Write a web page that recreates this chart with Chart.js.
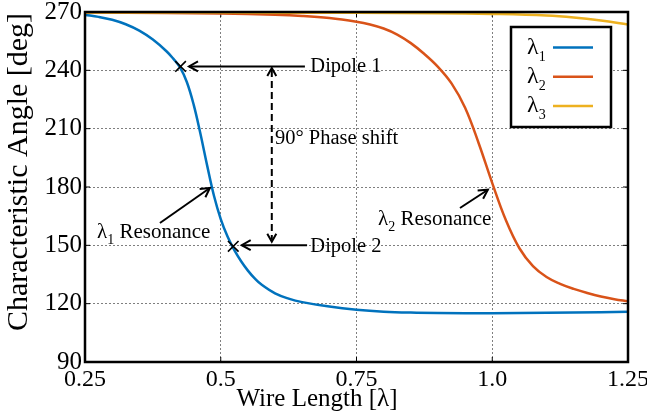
<!DOCTYPE html>
<html><head><meta charset="utf-8">
<script src="https://cdn.jsdelivr.net/npm/chart.js@4"></script>
<style>html,body{margin:0;padding:0;background:#fff;}</style>
</head><body>
<canvas id="c" width="647" height="419" style="width:647px;height:419px;display:block"></canvas>
<script>
// ---- data ----
const xTickLabels = ['0.25', '0.5', '0.75', '1.0', '1.25'];
const yTickLabels = ['90', '120', '150', '180', '210', '240', '270'];
const seriesLabels = ['λ1', 'λ2', 'λ3'];
const xTitle = 'Wire Length [λ]';
const yTitle = 'Characteristic Angle [deg]';

const lambda1X = [0.25, 0.275, 0.30, 0.325, 0.35, 0.375, 0.40, 0.4125, 0.425, 0.4375, 0.45, 0.4625, 0.475, 0.4875, 0.50, 0.5125, 0.525, 0.5375, 0.55, 0.5625, 0.575, 0.60, 0.625, 0.65, 0.70, 0.75, 0.80, 0.85, 0.90, 1.0, 1.1, 1.2, 1.25];
const lambda1Y = [268.5, 267.5, 266.0, 263.7, 260.4, 255.8, 249.8, 246.0, 241.5, 234.0, 222.5, 207.5, 191.0, 175.5, 163.5, 154.5, 147.5, 141.8, 137.0, 133.0, 129.8, 125.3, 122.6, 120.8, 118.5, 116.9, 115.9, 115.4, 115.2, 115.1, 115.3, 115.6, 115.8];

const lambda2X = [0.25, 0.40, 0.50, 0.60, 0.65, 0.70, 0.75, 0.775, 0.80, 0.825, 0.85, 0.875, 0.90, 0.925, 0.95, 0.975, 1.0, 1.025, 1.05, 1.075, 1.10, 1.125, 1.15, 1.175, 1.20, 1.225, 1.25];
const lambda2Y = [269.7, 269.5, 269.2, 268.6, 268.0, 266.9, 265.0, 263.6, 261.5, 258.4, 254.0, 248.4, 241.8, 233.3, 220.8, 202.5, 182.0, 163.0, 148.5, 139.3, 133.7, 130.2, 127.6, 125.5, 123.7, 122.3, 121.2];

const lambda3X = [0.25, 0.5, 0.75, 0.9, 1.0, 1.1, 1.15, 1.2, 1.25];
const lambda3Y = [269.7, 269.7, 269.6, 269.4, 269.0, 268.2, 267.2, 265.6, 263.5];

const dipoleX = [0.426, 0.523];
const dipoleY = [242, 149.5];

// ---- helpers ----
const FONT = "'Liberation Serif', 'Times New Roman', serif";
const pts = (xs, ys) => xs.map((x, i) => ({x, y: ys[i]}));

function head(ctx, x1, y1, x2, y2, len, wid) {
  const a = Math.atan2(y2 - y1, x2 - x1);
  const c = Math.cos(a), s = Math.sin(a);
  ctx.beginPath();
  ctx.moveTo(x2 - len * c + wid * s, y2 - len * s - wid * c);
  ctx.lineTo(x2, y2);
  ctx.lineTo(x2 - len * c - wid * s, y2 - len * s + wid * c);
  ctx.stroke();
}
function subText(ctx, base, sub, rest, x, y, size, subSize) {
  ctx.font = size + 'px ' + FONT;
  ctx.fillText(base, x, y);
  let w = ctx.measureText(base).width;
  ctx.font = subSize + 'px ' + FONT;
  ctx.fillText(sub, x + w, y + size * 0.28);
  w += ctx.measureText(sub).width;
  if (rest) {
    ctx.font = size + 'px ' + FONT;
    ctx.fillText(rest, x + w, y);
  }
}

// annotation layout (data coordinates)
const annot = {
  arrows: [
    {from: [0.655, 242], to: [0.4415, 242]},
    {from: [0.659, 150.1], to: [0.5386, 150.1]},
    {from: [0.388, 161.5], to: [0.480, 179.5]},
    {from: [0.9406, 169.2], to: [0.992, 178.6]}
  ],
  dbl: {x: 0.594, y1: 241.2, y2: 151.8},
  texts: [
    {t: 'Dipole 1', x: 0.665, y: 239.1},
    {t: 'Dipole 2', x: 0.665, y: 146.4},
    {t: '90° Phase shift', x: 0.600, y: 202}
  ],
  subTexts: [
    {base: 'λ', sub: '1', rest: ' Resonance', x: 0.272, y: 153.6},
    {base: 'λ', sub: '2', rest: ' Resonance', x: 0.7896, y: 160.6}
  ]
};

const decor = {
  id: 'decor',
  beforeDatasetsDraw(chart) {
    const {ctx, chartArea: a, scales: {x, y}} = chart;
    ctx.save();
    ctx.strokeStyle = '#000'; ctx.lineWidth = 1;
    x.ticks.forEach(t => {
      const px = x.getPixelForValue(t.value);
      ctx.beginPath(); ctx.moveTo(px, a.bottom); ctx.lineTo(px, a.bottom - 5);
      ctx.moveTo(px, a.top); ctx.lineTo(px, a.top + 5); ctx.stroke();
    });
    y.ticks.forEach(t => {
      const py = y.getPixelForValue(t.value);
      ctx.beginPath(); ctx.moveTo(a.left, py); ctx.lineTo(a.left + 5, py);
      ctx.moveTo(a.right, py); ctx.lineTo(a.right - 5, py); ctx.stroke();
    });
    ctx.restore();
  },
  afterDraw(chart) {
    const {ctx, chartArea: a, scales: {x, y}} = chart;
    const X = v => x.getPixelForValue(v), Y = v => y.getPixelForValue(v);
    ctx.save();
    ctx.fillStyle = '#000'; ctx.strokeStyle = '#000';
    ctx.textBaseline = 'alphabetic'; ctx.textAlign = 'left';
    ctx.lineWidth = 2;
    annot.arrows.forEach(ar => {
      const x1 = X(ar.from[0]), y1 = Y(ar.from[1]), x2 = X(ar.to[0]), y2 = Y(ar.to[1]);
      ctx.beginPath(); ctx.moveTo(x1, y1); ctx.lineTo(x2, y2); ctx.stroke();
      head(ctx, x1, y1, x2, y2, 9, 5);
    });
    const dx = X(annot.dbl.x), dy1 = Y(annot.dbl.y1), dy2 = Y(annot.dbl.y2);
    ctx.setLineDash([7, 4]);
    ctx.beginPath(); ctx.moveTo(dx, dy1 + 2); ctx.lineTo(dx, dy2 - 2); ctx.stroke();
    ctx.setLineDash([]);
    head(ctx, dx, dy2, dx, dy1, 8, 4.5);
    head(ctx, dx, dy1, dx, dy2, 8, 4.5);
    ctx.font = '20.5px ' + FONT;
    annot.texts.forEach(t => ctx.fillText(t.t, X(t.x), Y(t.y)));
    annot.subTexts.forEach(t => subText(ctx, t.base, t.sub, t.rest, X(t.x), Y(t.y), 21, 14));
    ctx.lineWidth = 2.5;
    ctx.strokeRect(a.left, a.top, a.right - a.left, a.bottom - a.top);
    const lx = a.right - 117, ly = a.top + 15, lw = 100, lh = 100;
    ctx.fillStyle = '#fff';
    ctx.fillRect(lx, ly, lw, lh);
    ctx.lineWidth = 2.5; ctx.strokeStyle = '#000';
    ctx.strokeRect(lx, ly, lw, lh);
    chart.data.datasets.filter(d => d.label).forEach((d, i) => {
      const cy = ly + 20.5 + i * 29.2;
      ctx.fillStyle = '#000';
      subText(ctx, d.label[0], d.label.slice(1), '', lx + 16, cy + 6.5, 24, 14);
      ctx.strokeStyle = d.borderColor; ctx.lineWidth = 2.5;
      ctx.beginPath(); ctx.moveTo(lx + 42, cy); ctx.lineTo(lx + 82, cy); ctx.stroke();
    });
    ctx.fillStyle = '#000';
    ctx.textAlign = 'center';
    ctx.font = '25px ' + FONT;
    ctx.fillText(xTitle, 317, 406);
    ctx.translate(19, 172);
    ctx.rotate(-Math.PI / 2);
    ctx.textBaseline = 'middle';
    ctx.font = '30px ' + FONT;
    ctx.fillText(yTitle, 0, 0);
    ctx.restore();
  }
};

const line = (label, xs, ys, color, order) => ({
  label, data: pts(xs, ys), borderColor: color, backgroundColor: color,
  borderWidth: 2.5, pointRadius: 0, tension: 0.4, order
});

new Chart(document.getElementById('c'), {
  type: 'line',
  data: {
    datasets: [
      line(seriesLabels[0], lambda1X, lambda1Y, '#0072BD', 2),
      line(seriesLabels[1], lambda2X, lambda2Y, '#D95319', 1),
      line(seriesLabels[2], lambda3X, lambda3Y, '#EDB120', 0),
      {type: 'scatter', label: '', data: pts(dipoleX, dipoleY), showLine: false,
       pointStyle: 'crossRot', pointRadius: 7.5, borderColor: '#000', borderWidth: 1.6, order: -1}
    ]
  },
  options: {
    responsive: false, animation: false,
    layout: {padding: {top: 12, right: 19, left: 0, bottom: 0}},
    plugins: {legend: {display: false}, tooltip: {enabled: false}},
    scales: {
      x: {
        type: 'linear', min: 0.25, max: 1.25,
        afterBuildTicks: s => { s.ticks = xTickLabels.map(v => ({value: parseFloat(v)})); },
        ticks: {callback: (v, i) => xTickLabels[i], color: '#000', font: {family: FONT, size: 24}, padding: 3, maxRotation: 0, autoSkip: false},
        grid: {color: 'rgba(0,0,0,0.5)', lineWidth: 1, drawTicks: false, borderDash: [2, 2]},
        border: {display: false, dash: [2, 2]},
        title: {display: false},
        afterFit: s => { s.height = 57; s.paddingLeft = 0; s.paddingRight = 0; }
      },
      y: {
        type: 'linear', min: 90, max: 270,
        afterBuildTicks: s => { s.ticks = yTickLabels.map(v => ({value: parseFloat(v)})); },
        ticks: {callback: (v, i) => yTickLabels[i], color: '#000', font: {family: FONT, size: 25}, padding: 3, autoSkip: false},
        grid: {color: 'rgba(0,0,0,0.5)', lineWidth: 1, drawTicks: false, borderDash: [2, 2]},
        border: {display: false, dash: [2, 2]},
        title: {display: false},
        afterFit: s => { s.width = 85; s.paddingTop = 0; s.paddingBottom = 0; }
      }
    }
  },
  plugins: [decor]
});
</script>
</body></html>
